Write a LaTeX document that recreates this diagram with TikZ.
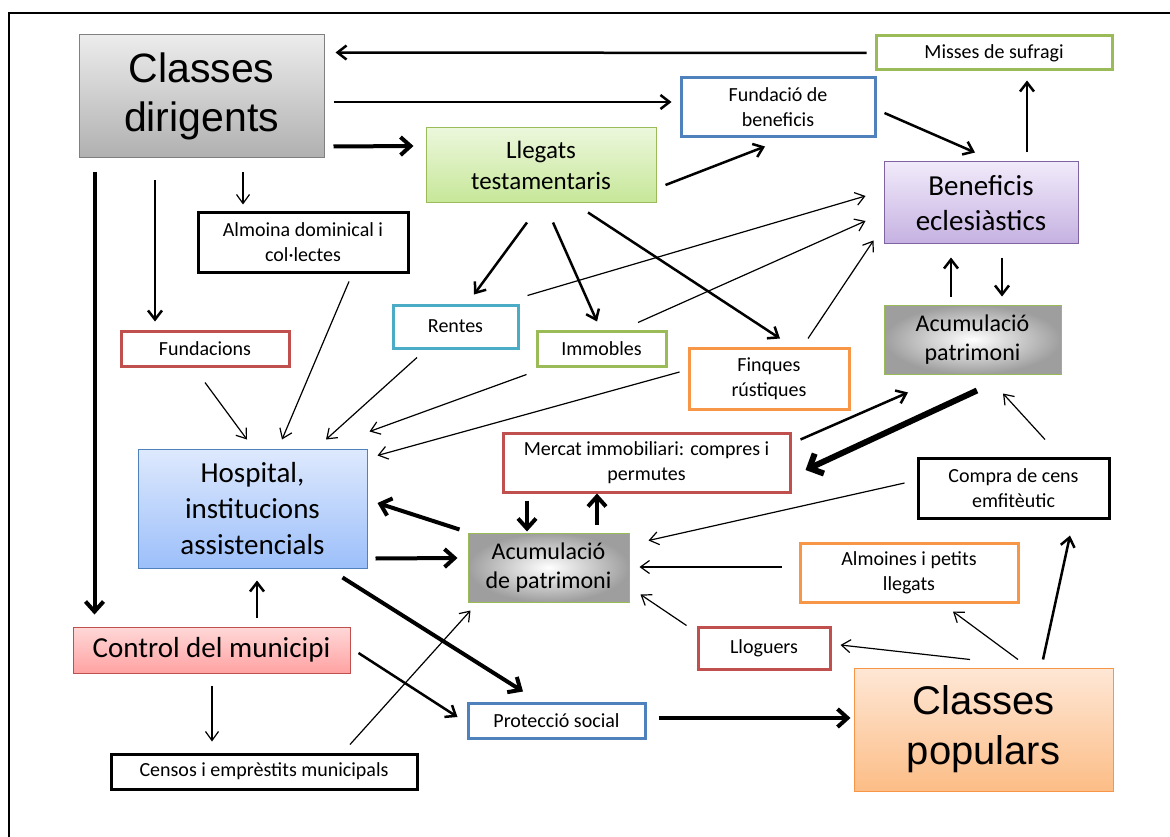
\documentclass[tikz,border=0pt]{standalone}
\usepackage{fontspec}
\setmainfont{Carlito}
\newfontfamily\arialfont{Liberation Sans}
\usepackage{tikz}
\usetikzlibrary{arrows.meta}

\definecolor{olgreen}{HTML}{9BBB59}
\definecolor{olblue}{HTML}{4F81BD}
\definecolor{olred}{HTML}{C0504D}
\definecolor{olorange}{HTML}{F79646}
\definecolor{olcyan}{HTML}{4BACC6}
\definecolor{olpurple}{HTML}{8064A2}

\tikzset{
  box/.style={draw,line width=3pt,fill=white,align=center,inner sep=0pt,
    font=\fontsize{20}{25}\selectfont},
  bigbox/.style={draw,line width=1pt,align=center,inner sep=0pt},
  acumbox/.style={bigbox,draw=olgreen,inner color=white,outer color=black!38,
    font=\fontsize{24}{29}\selectfont},
  thin/.style={line width=1.2pt,-{Straight Barb[length=9pt,width=13pt]}},
  med/.style={line width=2.5pt,-{Straight Barb[length=9pt,width=14pt]}},
  heavy/.style={line width=4pt,-{Straight Barb[length=10pt,width=18pt]}},
  huge/.style={line width=6pt,-{Straight Barb[length=11pt,width=22pt]}}
}

\begin{document}
\begin{tikzpicture}[x=1pt,y=-1pt]
  \useasboundingbox (0,0) rectangle (1170,837);
  \draw[line width=2pt] (9,837) -- (9,13) -- (1170,13);

  % upper part
  \node[bigbox,draw=black!50,top color={rgb,255:red,236;green,236;blue,236},
    bottom color={rgb,255:red,176;green,176;blue,176},
    minimum width=245,minimum height=123,font=\arialfont\fontsize{41}{49}\selectfont]
    (cd) at (201.5,96.5) {Classes\\dirigents};
  \node[box,draw=olgreen,minimum width=236,minimum height=34] (misses) at (994,53) {Misses de sufragi};
  \node[box,draw=olblue,minimum width=194,minimum height=59] (fundben) at (778,107.5) {Fundació de\\beneficis};
  \node[bigbox,draw=olgreen,top color={rgb,255:red,236;green,247;blue,220},
    bottom color={rgb,255:red,198;green,231;blue,152},
    minimum width=230,minimum height=75,font=\fontsize{25}{31}\selectfont]
    (llegats) at (541,165.5) {Llegats\\testamentaris};
  \node[bigbox,draw=olpurple,top color={rgb,255:red,241;green,234;blue,250},
    bottom color={rgb,255:red,197;green,177;blue,225},
    minimum width=194,minimum height=82,font=\fontsize{29}{35}\selectfont]
    (benef) at (981,203) {Beneficis\\eclesiàstics};
  \node[box,draw=black,minimum width=210,minimum height=59] (almoina) at (303,242.5) {Almoina dominical i\\col·lectes};

  % middle part
  \node[box,draw=olred,minimum width=168,minimum height=35] (fundac) at (205,348.5) {Fundacions};
  \node[box,draw=olcyan,minimum width=125,minimum height=43] (rentes) at (455.5,326.5) {Rentes};
  \node[box,draw=olgreen,minimum width=129,minimum height=35] (immob) at (601.5,348.5) {Immobles};
  \node[box,draw=olorange,minimum width=160,minimum height=61] (finques) at (769,378.5) {Finques\\rústiques};
  \node[acumbox,minimum width=177,minimum height=69] (acumtop) at (972.5,339.5) {Acumulació\\patrimoni};
  \node[box,draw=olred,minimum width=287,minimum height=59] (mercat) at (646.5,462.5) {Mercat immobiliari: compres i\\permutes};
  \node[bigbox,draw=olblue,top color={rgb,255:red,222;green,233;blue,253},
    bottom color={rgb,255:red,156;green,191;blue,250},
    minimum width=229,minimum height=119,font=\fontsize{29}{36}\selectfont]
    (hosp) at (252.5,508.5) {Hospital,\\institucions\\assistencials};
  \node[box,draw=black,minimum width=191,minimum height=60] (compra) at (1013.5,488) {Compra de cens\\emfitèutic};
  \node[acumbox,minimum width=161,minimum height=69] (acum) at (548.5,567.5) {Acumulació\\de patrimoni};
  \node[box,draw=olorange,minimum width=218,minimum height=59] (almoines) at (909,572.5) {Almoines i petits\\llegats};

  % lower part
  \node[bigbox,draw=olred,top color={rgb,255:red,255;green,216;blue,216},
    bottom color={rgb,255:red,255;green,162;blue,162},
    minimum width=277,minimum height=46,font=\fontsize{29}{35}\selectfont]
    (control) at (211.5,650) {Control del municipi};
  \node[box,draw=olred,minimum width=132,minimum height=42] (lloguers) at (764,648) {Lloguers};
  \node[box,draw=olblue,minimum width=177,minimum height=35] (protec) at (556.5,720.5) {Protecció social};
  \node[bigbox,draw=olorange,top color={rgb,255:red,254;green,231;blue,214},
    bottom color={rgb,255:red,252;green,189;blue,134},
    minimum width=259,minimum height=123,font=\arialfont\fontsize{40}{50}\selectfont]
    (cp) at (983.5,729.5) {Classes\\populars};
  \node[box,draw=black,minimum width=306,minimum height=35] (censos) at (264,771.5) {Censos i emprèstits municipals};

  \path
    ([shift={(-8,0)}]misses.west) edge [med] ([shift={(11,18)}]cd.north east)
    ([shift={(9,5.5)}]cd.east) edge [med] ([shift={(-8,-5.5)}]fundben.west)
    ([shift={(9,-12)}]cd.south east) edge [heavy] ([shift={(-12,-19.5)}]llegats.west)
    ([shift={(41.5,14)}]cd.south) edge [thin] ([shift={(-60,-7)}]almoina.north)
    ([shift={(-46.5,22)}]cd.south) edge [med] ([shift={(-50,-8)}]fundac.north)
    ([shift={(16,14)}]cd.south west) edge [heavy] ([shift={(22,-12)}]control.north west)
    ([shift={(9,19.5)}]llegats.east) edge [med] ([shift={(-13,8)}]fundben.south)
    ([shift={(8,5.5)}]fundben.east) edge [med] ([shift={(-6,-9)}]benef.north)
    ([shift={(46,-9)}]benef.north) edge [med] ([shift={(33,9)}]misses.south)
    ([shift={(-14,19)}]llegats.south) edge [med] ([shift={(18.5,-9)}]rentes.north)
    ([shift={(12,19)}]llegats.south) edge [med] ([shift={(-4.5,-8)}]immob.north)
    ([shift={(47,9)}]llegats.south) edge [med] ([shift={(11,-8)}]finques.north)
    ([shift={(8,-8)}]rentes.north east) edge [thin] ([shift={(-18,-7)}]benef.west)
    ([shift={(36.5,-7)}]immob.north) edge [thin] ([shift={(-18,18)}]benef.west)
    ([shift={(39,-8)}]finques.north) edge [thin] ([shift={(-10,-4)}]benef.south west)
    ([shift={(-21.5,-8)}]acumtop.north) edge [med] ([shift={(-30,13)}]benef.south)
    ([shift={(21,13)}]benef.south) edge [med] ([shift={(29.5,-8)}]acumtop.north)
    ([shift={(9,8)}]mercat.north east) edge [med] ([shift={(-64.5,18)}]acumtop.south)
    ([shift={(4.5,16)}]acumtop.south) edge [huge] ([shift={(14,7.5)}]mercat.east)
    ([shift={(31.5,-17)}]compra.north) edge [thin] ([shift={(30.5,19)}]acumtop.south)
    ([shift={(0,15)}]fundac.south) edge [thin] ([shift={(-5.5,-9)}]hosp.north)
    ([shift={(46,8)}]almoina.south) edge [thin] ([shift={(29.5,-9)}]hosp.north)
    ([shift={(-38.5,8)}]rentes.south) edge [thin] ([shift={(73.5,-9)}]hosp.north)
    ([shift={(-9,7)}]immob.south west) edge [thin] ([shift={(2,-17)}]hosp.north east)
    ([shift={(-8,-6.5)}]finques.west) edge [thin] ([shift={(10,7)}]hosp.north east)
    ([shift={(-8,-3)}]acum.north west) edge [heavy] ([shift={(10,-5.5)}]hosp.east)
    ([shift={(8,-10)}]hosp.south east) edge [heavy] ([shift={(-10,-9.5)}]acum.west)
    ([shift={(-25,9)}]hosp.south east) edge [heavy] ([shift={(-33.5,-10)}]protec.north)
    ([shift={(-119.5,7)}]mercat.south) edge [heavy] ([shift={(-21.5,-1)}]acum.north)
    ([shift={(48.5,-8)}]acum.north) edge [heavy] ([shift={(-49.5,0)}]mercat.south)
    ([shift={(-12,-5)}]compra.west) edge [thin] ([shift={(19,8)}]acum.north east)
    ([shift={(-17,-5.5)}]almoines.west) edge [thin] ([shift={(10,-0.5)}]acum.east)
    ([shift={(-10,0)}]lloguers.north west) edge [thin] ([shift={(11,-8)}]acum.south east)
    ([shift={(45.5,-9)}]control.north) edge [med] ([shift={(4.5,12)}]hosp.south)
    ([shift={(0.5,12)}]control.south) edge [thin] ([shift={(-52,-11)}]censos.north)
    ([shift={(8,3)}]control.east) edge [med] ([shift={(-9,-3.5)}]protec.west)
    ([shift={(86,-8)}]censos.north) edge [thin] ([shift={(3,8)}]acum.south west)
    ([shift={(12,-2.5)}]protec.east) edge [heavy] ([shift={(-3,-11.5)}]cp.west)
    ([shift={(-13.5,-8)}]cp.north) edge [thin] ([shift={(9,-3)}]lloguers.east)
    ([shift={(34.5,-8)}]cp.north) edge [thin] ([shift={(44,8)}]almoines.south)
    ([shift={(59.5,-8)}]cp.north) edge [med] ([shift={(56.5,16)}]compra.south);
\end{tikzpicture}
\end{document}
